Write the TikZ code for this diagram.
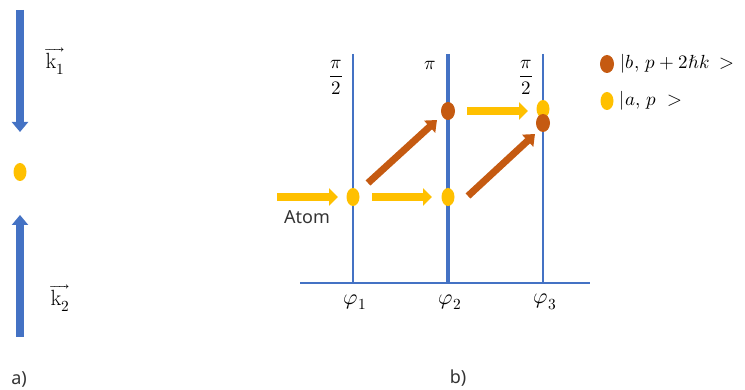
\documentclass[tikz,border=0pt]{standalone}
\usepackage{amsmath}
\usepackage{fontspec}
\usepackage{unicode-math}
\setmathfont{Latin Modern Math}
\newfontfamily\labelfont{Noto Sans}
\usetikzlibrary{arrows.meta,positioning,shapes.geometric}
\definecolor{atomyellow}{HTML}{FFC000}
\definecolor{atombrown}{HTML}{C55A11}
\definecolor{beamblue}{HTML}{4472C4}

\begin{document}
\begin{tikzpicture}[
   x=1pt, y=-1pt,
   ydot/.style={draw=none, fill=atomyellow, ellipse, minimum width=13pt,
      minimum height=18pt, inner sep=0pt},
   bdot/.style={ydot, fill=atombrown, minimum width=14pt},
   yarrow/.style={-{Triangle[length=9pt,width=17pt]}, line width=8pt, atomyellow},
   barrow/.style={-{Triangle[length=10pt,width=16pt]}, line width=7pt, atombrown},
   beam/.style={-{Triangle[length=10pt,width=16pt]}, line width=7.5pt, beamblue},
   phase/.style={beamblue, line width=1.6pt},
   mlabel/.style={font=\fontsize{19}{22}\selectfont, inner sep=1pt},
   klabel/.style={font=\fontsize{22}{24}\selectfont, inner sep=1pt},
   tlabel/.style={font=\labelfont\fontsize{18}{20}\selectfont, inner sep=1pt,
      text=black!80}
]
\useasboundingbox (0,0) rectangle (745,390);

% a) counter-propagating beams
\node[ydot] (atomA) at (20,172) {};
\coordinate (k1start) at (20,10);
\coordinate (k2start) at (20,337);
\draw[beam, shorten >=40pt] (k1start) -- (atomA.center);
\draw[beam, shorten >=43pt] (k2start) -- (atomA.center);
\node[klabel] (k1) at (55,61) {$\overrightarrow{\mathrm{k}_1}$};
\node[klabel] (k2) at (60,298) {$\overrightarrow{\mathrm{k}_2}$};
\node[tlabel] (capA) at (19,379) {a)};

% b) pulse sequence
\coordinate (axisL) at (300,283);
\coordinate (axisR) at (590,283);
\draw[phase] (axisL) -- (axisR);
\foreach \x/\n in {353/1,448/2,543/3} {
   \coordinate (top\n) at (\x,54);
   \coordinate (foot\n) at (\x,283);
   \node[klabel] (phi\n) at (\x+2,302) {$\varphi_{\n}$};
}
\draw[phase] (top1) -- (foot1);
\draw[phase, line width=4pt] (top2) -- (foot2);
\draw[phase] (top3) -- (foot3);
\node[mlabel] (pulse1) at (336,77) {$\dfrac{\pi}{2}$};
\node[mlabel] (pulse2) at (430,66) {$\pi$};
\node[mlabel] (pulse3) at (526,77) {$\dfrac{\pi}{2}$};
\node[tlabel] (capB) at (458,378) {b)};

\node[ydot] (ya1) at (353,197) {};
\node[ydot] (ya2) at (448,197) {};
\node[bdot] (b2) at (448,111) {};
\node[ydot] (ya3) at (543,109) {};
\node[bdot] (b3) at (543,123) {};

\coordinate (atomin) at (277,197);
\node[tlabel] (atomtxt) at (307,217) {Atom};
\draw[yarrow, shorten >=15pt] (atomin) -- (ya1.center);
\draw[yarrow, shorten <=19pt, shorten >=16pt] (ya1.center) -- (ya2.center);
\draw[yarrow, shorten <=19pt, shorten >=15pt] (b2.center) -- (b2 -| ya3);
\draw[barrow] ([shift={(15,-14)}]ya1.center) -- ([shift={(-11,9)}]b2.center);
\draw[barrow] ([shift={(20,-1)}]ya2.center) -- ([shift={(-8,11)}]b3.center);

% legend
\node[bdot] (legb) at (607,64) {};
\node[mlabel, right=5pt of legb] (legbtxt) {$|b,\,p+2\hbar k\;>$};
\node[ydot] (lega) at (607,101) {};
\node[mlabel, right=5pt of lega] (legatxt) {$|a,\,p\;>$};
\end{tikzpicture}
\end{document}
